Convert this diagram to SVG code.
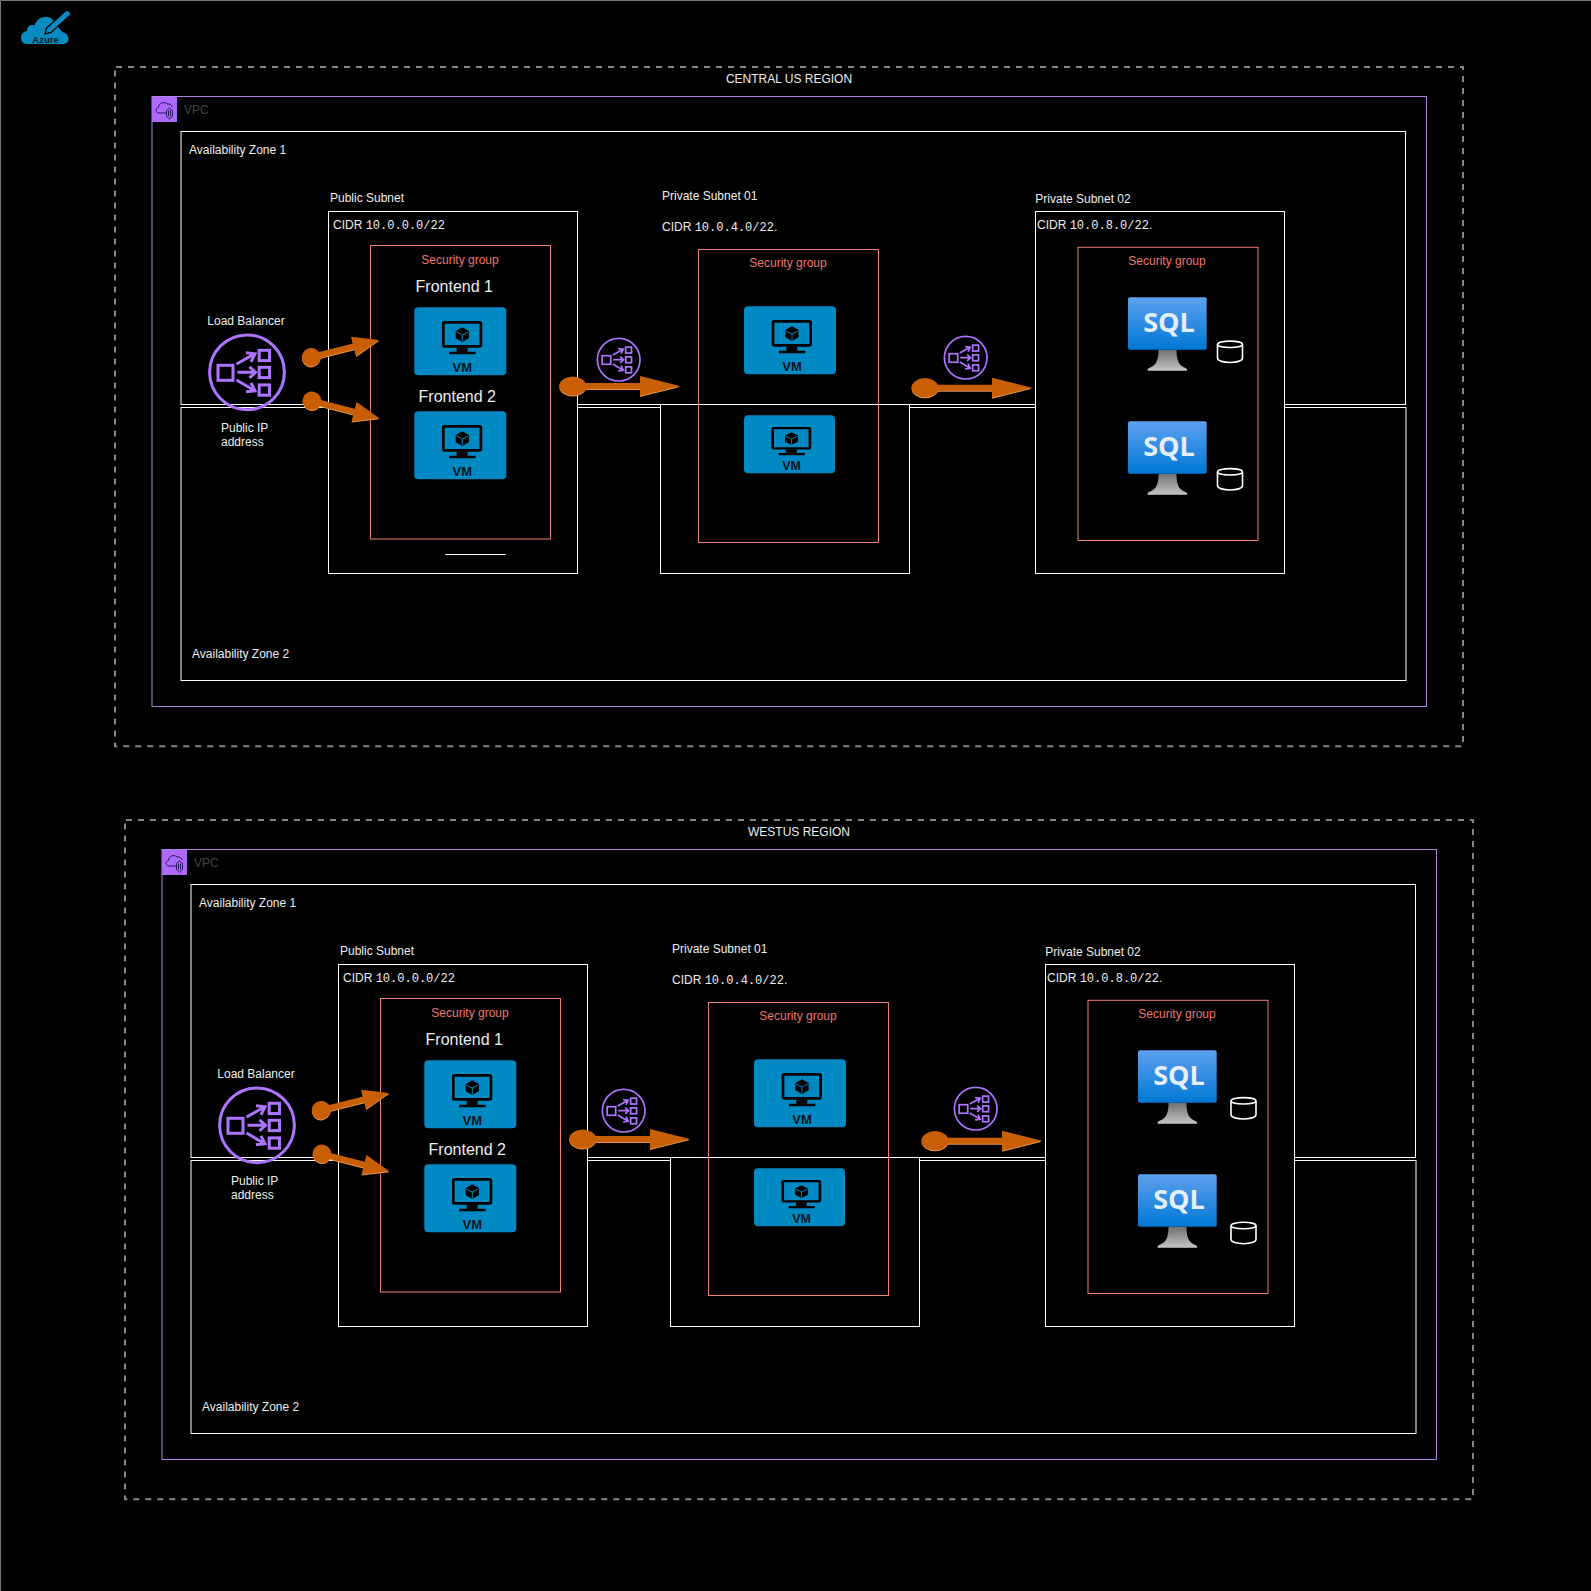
<svg xmlns="http://www.w3.org/2000/svg" xmlns:xlink="http://www.w3.org/1999/xlink" width="1591" height="1591" viewBox="0 0 1591 1591">
<style>
text{font-family:"Liberation Sans",Arial,sans-serif;font-size:12px;fill:#eee}
.mono{font-family:"Liberation Mono","Courier New",monospace}
.mid{text-anchor:middle}
.fe{font-size:16px}
.sgt{fill:#ee7468}
.vpct{fill:#444}
.vmt{font-weight:bold;fill:#0a151c;text-anchor:middle;font-size:13px}
.sqlt{font-family:"Open Sans","Noto Sans",sans-serif;font-weight:bold;font-size:27px;fill:#e4effb;text-anchor:middle}
.region{fill:none;stroke:#858585;stroke-width:2;stroke-dasharray:6 6;stroke-dashoffset:-1}
.vpc{fill:none;stroke:#ab86e2;stroke-width:1}
.az{fill:#000;stroke:#fff;stroke-width:1}
.sn{fill:#000;stroke:#fff;stroke-width:1}
.sg{fill:none;stroke:#ee8070;stroke-width:1}
.flow{fill:none;stroke:#c85f05;filter:drop-shadow(0 1.5px 0 #e6904c)}
.fl{stroke-width:6}
.fs{stroke-width:6}
.mk{fill:#c85f05}
</style>
<defs>
<linearGradient id="gs" x1="0" y1="0" x2="0" y2="1"><stop offset="0" stop-color="#5ea0ef"/><stop offset="1" stop-color="#0078d4"/></linearGradient>
<linearGradient id="gp" x1="0" y1="0" x2="0" y2="1"><stop offset="0" stop-color="#6f6f6f"/><stop offset="1" stop-color="#c4c4c4"/></linearGradient>
<marker id="ovalL" markerUnits="userSpaceOnUse" orient="auto" overflow="visible" markerWidth="30" markerHeight="30" refX="0" refY="0"><ellipse class="mk" rx="13.4" ry="9.6"/></marker>
<marker id="ovalS" markerUnits="userSpaceOnUse" orient="auto" overflow="visible" markerWidth="30" markerHeight="30" refX="0" refY="0"><ellipse class="mk" rx="9.4" ry="9.2"/></marker>
<marker id="headL" markerUnits="userSpaceOnUse" orient="auto" overflow="visible" markerWidth="50" markerHeight="30" refX="0" refY="0"><polygon class="mk" points="0,-10 40,0 0,10"/></marker>
<marker id="headS" markerUnits="userSpaceOnUse" orient="auto" overflow="visible" markerWidth="50" markerHeight="30" refX="0" refY="0"><polygon class="mk" points="0,-10 26,0 0,10"/></marker>
<g id="lbIcon" fill="none" stroke="#ac74ff" stroke-width="3">
<circle r="37.4"/>
<rect x="-29" y="-7" width="15" height="15"/>
<rect x="12.2" y="-22" width="10.3" height="10.3"/>
<rect x="12.2" y="-5" width="10.3" height="10.3"/>
<rect x="12.2" y="12.6" width="10.3" height="10.3"/>
<path d="M-10.5-8.3 7-18M-1-19.5 8-18.5 4-10.5M-9.5 0H8M2.5-5.5 8.5 0 2.5 5.5M-10.5 7.7 7 18M-1 19.5 8 18.5 4 10.5"/>
</g>
<g id="vmArt">
<rect x="29" y="15" width="37.6" height="24" rx="1.5" fill="none" stroke="#000" stroke-width="2.7"/>
<path d="M42.3 40H53.3V44.4H61.3V47H35V44.4H42.3Z" fill="#000"/>
<polygon points="48,20 54.6,23.7 54.6,31 48,34.7 41.4,31 41.4,23.7" fill="#000"/>
<path d="M42 24.5 48 27.8 54 24.5M48 27.8V34" fill="none" stroke="#0089c2" stroke-width="1"/>
</g>
<g id="sqlArt">
<path d="M30.5 52.4H48.5C48.5 62 50 68 58 71Q59.5 72 59 73.4H19.7Q19 72 20.5 71C29 68 30.5 62 30.5 52.4Z" fill="url(#gp)"/>
<rect width="78.7" height="52.4" rx="2" fill="url(#gs)"/>
</g>
<g id="cyl" fill="#000" stroke="#fff" stroke-width="1.6">
<path d="M1 5C1 .5 26 .5 26 5V18.5C26 24.5 1 24.5 1 18.5Z"/>
<path d="M1 5C1 9 26 9 26 5" fill="none"/>
</g>
<g id="vpcIcon">
<rect width="25" height="25" fill="#ad69fb"/>
<path d="M14 16H7C3.5 16 3 11 6.5 10.5 6.5 6 12 4 15 7 18 6.5 20 8 20 10" fill="none" stroke="#2a1466" stroke-width="1"/>
<path d="M14.5 13.5 17.5 11 20.5 13.5V19.5L17.5 22 14.5 19.5ZM16.5 13.5V19.5M18.5 13.5V19.5" fill="none" stroke="#2a1466" stroke-width="1"/>
</g>
</defs>
<rect id="background" width="1591" height="1591" fill="#000"/>
<path d="M.5 1591V.5H1591" fill="none" stroke="#777" stroke-width="1"/>
<g id="azure-logo">
<path d="M27 44C19 44 19 32 27 31 27 26 31 24 34.5 25.5 37 17 48 14 53 20L62 32C70 33 71 44 63 44Z" fill="#0a8bc0"/>
<path d="M45 34 46.5 28 66 10.5Q68 10 70 12 71 14 70.5 15L51 32.5Z" fill="#0a8bc0" stroke="#000" stroke-width="1.3"/>
<text class="mid" x="45.5" y="43" style="font-size:9.5px;font-weight:bold;fill:#06202f">Azure</text>
</g>

<g id="region-central">
<g id="central-region"><rect class="region" x="115" y="67" width="1348" height="679.3"/><text class="mid" x="789" y="83">CENTRAL US REGION</text></g>
<g id="central-vpc"><rect class="vpc" x="152" y="96.5" width="1274.5" height="610"/><use href="#vpcIcon" x="152" y="97"/><text class="vpct" x="184" y="114">VPC</text></g>
<g id="central-az2"><rect class="az" x="181" y="407.5" width="1225" height="273"/><text x="192" y="658">Availability Zone 2</text></g>
<g id="central-private-subnet-01"><rect class="sn" x="660.5" y="211.5" width="249" height="362"/></g>
<g id="central-az1"><rect class="az" x="181" y="131.5" width="1224.5" height="273"/><text x="189" y="154.3">Availability Zone 1</text></g>
<g id="central-public-subnet"><rect class="sn" x="328.5" y="211.5" width="249" height="362"/><text x="330" y="202">Public Subnet</text><text x="333" y="229">CIDR <tspan class="mono">10.0.0.0/22</tspan></text><path d="M445.3 554.5H505.7" stroke="#fff" stroke-width="1"/></g>
<g id="central-private-subnet-01-labels"><text x="662" y="200">Private Subnet 01</text><text x="662" y="230.7">CIDR <tspan class="mono">10.0.4.0/22</tspan>.</text></g>
<g id="central-private-subnet-02"><rect class="sn" x="1035.5" y="211.5" width="249" height="362"/><text x="1035.3" y="202.7">Private Subnet 02</text><text x="1037" y="229">CIDR <tspan class="mono">10.0.8.0/22</tspan>.</text></g>
<g id="central-sg-public"><rect class="sg" x="370.5" y="245.5" width="180" height="293.5"/><text class="mid sgt" x="460" y="264">Security group</text></g>
<g id="central-sg-private-01"><rect class="sg" x="698.5" y="249.5" width="180" height="293"/><text class="mid sgt" x="788" y="267">Security group</text></g>
<g id="central-sg-private-02"><rect class="sg" x="1078" y="247.3" width="180" height="293.2"/><text class="mid sgt" x="1167" y="265.3">Security group</text></g>
<g id="central-frontend-1"><text class="mid fe" x="454.3" y="292">Frontend 1</text><rect x="414.3" y="307.3" width="92" height="68" rx="4" fill="#0089c2"/><use href="#vmArt" x="414.3" y="307.3"/><text class="vmt" x="462.3" y="371.5">VM</text></g>
<g id="central-frontend-2"><text class="mid fe" x="457.3" y="401.7">Frontend 2</text><rect x="414.3" y="411.3" width="92" height="68" rx="4" fill="#0089c2"/><use href="#vmArt" x="414.3" y="411.3"/><text class="vmt" x="462.3" y="475.5">VM</text></g>
<g id="central-private-vm-1"><rect x="744" y="306.3" width="92" height="68" rx="4" fill="#0089c2"/><use href="#vmArt" x="744" y="306.3"/><text class="vmt" x="792" y="370.5">VM</text></g>
<g id="central-private-vm-2"><rect x="744" y="415.3" width="91" height="58" rx="4" fill="#0089c2"/><use href="#vmArt" transform="translate(744 415.3) scale(.99 .85)"/><text class="vmt" x="791.5" y="470" style="font-size:12.5px">VM</text></g>
<g id="central-sql-1"><use href="#sqlArt" x="1128" y="297.3"/><text class="sqlt" x="1169" y="332">SQL</text></g>
<g id="central-sql-2"><use href="#sqlArt" x="1128" y="421.3"/><text class="sqlt" x="1169" y="456">SQL</text></g>
<g id="central-db-1"><use href="#cyl" x="1216.5" y="339.5"/></g>
<g id="central-db-2"><use href="#cyl" x="1216.5" y="467"/></g>
<g id="central-load-balancer"><text x="207.3" y="325">Load Balancer</text><use href="#lbIcon" x="247" y="372.3"/><text x="221" y="432">Public IP</text><text x="221" y="446">address</text></g>
<g id="central-lb-private-01"><use href="#lbIcon" transform="translate(618.7 359.7) scale(.57)"/></g>
<g id="central-lb-private-02"><use href="#lbIcon" transform="translate(965.7 357.7) scale(.57)"/></g>
</g>

<g id="region-westus" transform="translate(10 753)">
<g id="westus-region"><rect class="region" x="115" y="67" width="1348" height="679.3"/><text class="mid" x="789" y="83">WESTUS REGION</text></g>
<g id="westus-vpc"><rect class="vpc" x="152" y="96.5" width="1274.5" height="610"/><use href="#vpcIcon" x="152" y="97"/><text class="vpct" x="184" y="114">VPC</text></g>
<g id="westus-az2"><rect class="az" x="181" y="407.5" width="1225" height="273"/><text x="192" y="658">Availability Zone 2</text></g>
<g id="westus-private-subnet-01"><rect class="sn" x="660.5" y="211.5" width="249" height="362"/></g>
<g id="westus-az1"><rect class="az" x="181" y="131.5" width="1224.5" height="273"/><text x="189" y="154.3">Availability Zone 1</text></g>
<g id="westus-public-subnet"><rect class="sn" x="328.5" y="211.5" width="249" height="362"/><text x="330" y="202">Public Subnet</text><text x="333" y="229">CIDR <tspan class="mono">10.0.0.0/22</tspan></text></g>
<g id="westus-private-subnet-01-labels"><text x="662" y="200">Private Subnet 01</text><text x="662" y="230.7">CIDR <tspan class="mono">10.0.4.0/22</tspan>.</text></g>
<g id="westus-private-subnet-02"><rect class="sn" x="1035.5" y="211.5" width="249" height="362"/><text x="1035.3" y="202.7">Private Subnet 02</text><text x="1037" y="229">CIDR <tspan class="mono">10.0.8.0/22</tspan>.</text></g>
<g id="westus-sg-public"><rect class="sg" x="370.5" y="245.5" width="180" height="293.5"/><text class="mid sgt" x="460" y="264">Security group</text></g>
<g id="westus-sg-private-01"><rect class="sg" x="698.5" y="249.5" width="180" height="293"/><text class="mid sgt" x="788" y="267">Security group</text></g>
<g id="westus-sg-private-02"><rect class="sg" x="1078" y="247.3" width="180" height="293.2"/><text class="mid sgt" x="1167" y="265.3">Security group</text></g>
<g id="westus-frontend-1"><text class="mid fe" x="454.3" y="292">Frontend 1</text><rect x="414.3" y="307.3" width="92" height="68" rx="4" fill="#0089c2"/><use href="#vmArt" x="414.3" y="307.3"/><text class="vmt" x="462.3" y="371.5">VM</text></g>
<g id="westus-frontend-2"><text class="mid fe" x="457.3" y="401.7">Frontend 2</text><rect x="414.3" y="411.3" width="92" height="68" rx="4" fill="#0089c2"/><use href="#vmArt" x="414.3" y="411.3"/><text class="vmt" x="462.3" y="475.5">VM</text></g>
<g id="westus-private-vm-1"><rect x="744" y="306.3" width="92" height="68" rx="4" fill="#0089c2"/><use href="#vmArt" x="744" y="306.3"/><text class="vmt" x="792" y="370.5">VM</text></g>
<g id="westus-private-vm-2"><rect x="744" y="415.3" width="91" height="58" rx="4" fill="#0089c2"/><use href="#vmArt" transform="translate(744 415.3) scale(.99 .85)"/><text class="vmt" x="791.5" y="470" style="font-size:12.5px">VM</text></g>
<g id="westus-sql-1"><use href="#sqlArt" x="1128" y="297.3"/><text class="sqlt" x="1169" y="332">SQL</text></g>
<g id="westus-sql-2"><use href="#sqlArt" x="1128" y="421.3"/><text class="sqlt" x="1169" y="456">SQL</text></g>
<g id="westus-db-1"><use href="#cyl" x="1220" y="343"/></g>
<g id="westus-db-2"><use href="#cyl" x="1220" y="467.7"/></g>
<g id="westus-load-balancer"><text x="207.3" y="325">Load Balancer</text><use href="#lbIcon" x="247" y="372.3"/><text x="221" y="432">Public IP</text><text x="221" y="446">address</text></g>
<g id="westus-lb-private-01"><use href="#lbIcon" transform="translate(613.7 357.7) scale(.57)"/></g>
<g id="westus-lb-private-02"><use href="#lbIcon" transform="translate(965.7 355.7) scale(.57)"/></g>
</g>

<g id="connectors">
<path class="flow fs" d="M311.2 357.2 353.8 346.4" marker-start="url(#ovalS)" marker-end="url(#headS)"/>
<path class="flow fs" d="M312 400.8 354.1 411.7" marker-start="url(#ovalS)" marker-end="url(#headS)"/>
<path class="flow fl" d="M572.7 386H640" marker-start="url(#ovalL)" marker-end="url(#headL)"/>
<path class="flow fl" d="M925 387.7H992" marker-start="url(#ovalL)" marker-end="url(#headL)"/>
<path class="flow fs" d="M321.2 1110.2 363.8 1099.4" marker-start="url(#ovalS)" marker-end="url(#headS)"/>
<path class="flow fs" d="M322 1153.8 364.1 1164.7" marker-start="url(#ovalS)" marker-end="url(#headS)"/>
<path class="flow fl" d="M582.7 1139H650" marker-start="url(#ovalL)" marker-end="url(#headL)"/>
<path class="flow fl" d="M935 1140.7H1002" marker-start="url(#ovalL)" marker-end="url(#headL)"/>
</g>
</svg>
